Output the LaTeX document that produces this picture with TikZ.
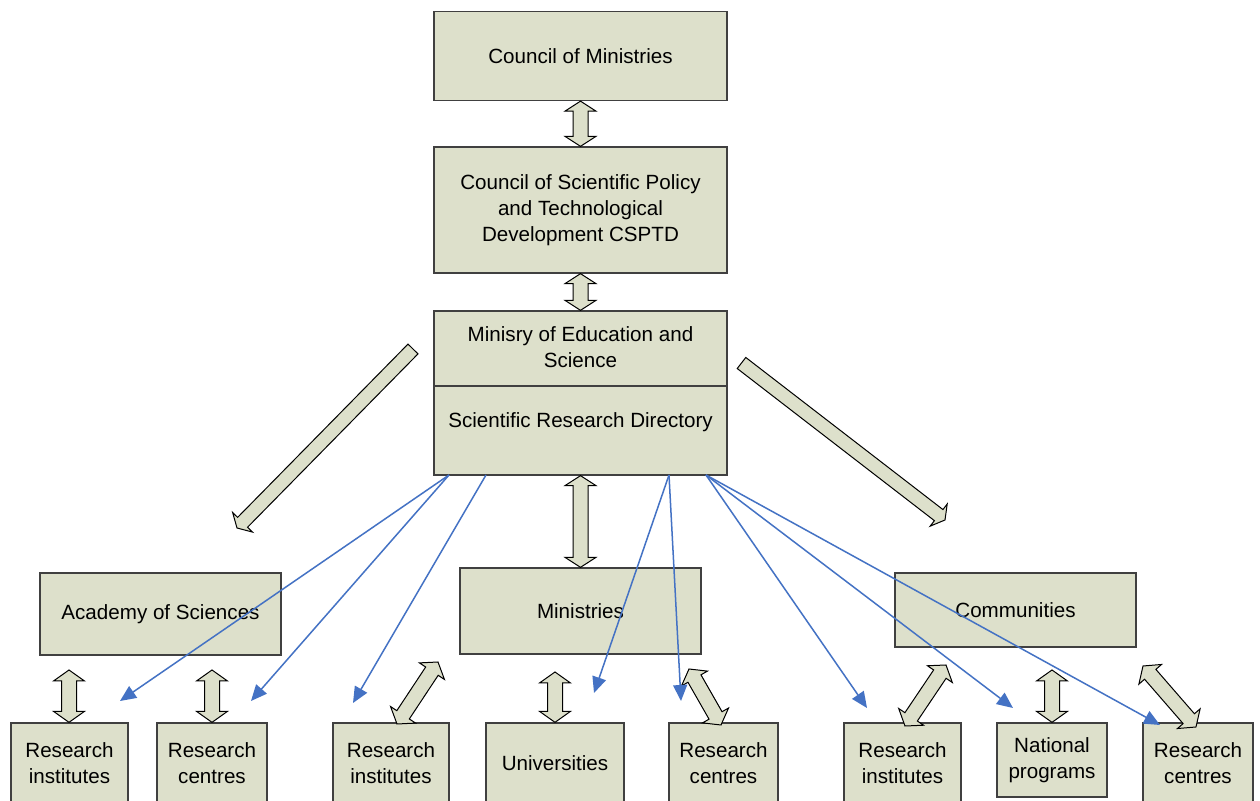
\documentclass[tikz,border=0pt]{standalone}
\usepackage{fontspec}
\setmainfont{Liberation Sans}
\usetikzlibrary{calc,arrows.meta}
\definecolor{boxfill}{RGB}{221,224,203}
\definecolor{boxline}{RGB}{64,64,64}
\definecolor{linkblue}{RGB}{68,114,196}
% double block arrow: from, to, head length, shaft half-width, head half-width
\newcommand{\blockdbl}[5]{%
  \draw[blk] (#1) -- ($(#1)!#3!(#2)!#5!90:(#2)$) -- ($(#1)!#3!(#2)!#4!90:(#2)$)
    -- ($(#2)!#3!(#1)!#4!-90:(#1)$) -- ($(#2)!#3!(#1)!#5!-90:(#1)$) -- (#2)
    -- ($(#2)!#3!(#1)!#5!90:(#1)$) -- ($(#2)!#3!(#1)!#4!90:(#1)$)
    -- ($(#1)!#3!(#2)!#4!-90:(#2)$) -- ($(#1)!#3!(#2)!#5!-90:(#2)$) -- cycle;}
% single block arrow: tail, tip, head length, shaft half-width, head half-width
\newcommand{\blocksgl}[5]{%
  \draw[blk] ($(#1)!#4!90:(#2)$) -- ($(#2)!#3!(#1)!#4!-90:(#1)$)
    -- ($(#2)!#3!(#1)!#5!-90:(#1)$) -- (#2)
    -- ($(#2)!#3!(#1)!#5!90:(#1)$) -- ($(#2)!#3!(#1)!#4!90:(#1)$)
    -- ($(#1)!#4!-90:(#2)$) -- cycle;}
\begin{document}
\begin{tikzpicture}[x=0.5pt,y=-0.5pt,
  box/.style={draw=boxline, fill=boxfill, line width=0.65pt, inner sep=0pt,
    align=center, font=\fontsize{10.3pt}{13pt}\selectfont},
  txt/.style={inner sep=0pt, align=center, font=\fontsize{10.3pt}{13pt}\selectfont},
  blk/.style={draw=black, fill=boxfill, line width=0.5pt, line join=miter},
  link/.style={draw=linkblue, line width=0.75pt, -{Triangle[length=8pt,width=7pt]}}]
\useasboundingbox (0,0) rectangle (1260,801);
\clip (0,0) rectangle (1260,801);
\fill[white] (0,0) rectangle (1260,801);

% main boxes
\node[box, minimum width=146.5pt, minimum height=44.5pt] (cm) at (580.5,56) {Council of Ministries};
\node[box, minimum width=146.5pt, minimum height=63pt] (csp) at (580.5,210)
  {Council of Scientific Policy\\and Technological\\Development CSPTD};
\node[box, minimum width=146.5pt, minimum height=82pt] (mes) at (580.5,393) {};
\coordinate (divy) at (0,386);
\draw[draw=boxline, line width=0.65pt] (mes.west |- divy) -- (mes.east |- divy);
\node[txt] (mest) at (580.5,347.5) {Minisry of Education and\\Science};
\node[txt] (mesb) at (580.5,422) {Scientific Research Directory};

\node[box, minimum width=120.5pt, minimum height=41pt] (acad) at (160.5,614) {Academy of Sciences};
\node[box, minimum width=120.5pt, minimum height=43pt] (mins) at (580.5,611) {Ministries};
\node[box, minimum width=120.5pt, minimum height=37pt] (comm) at (1015.5,610) {Communities};

% bottom boxes
\node[box, minimum width=58.5pt, minimum height=40pt] (ri1) at (69.5,763) {Research\\institutes};
\node[box, minimum width=55pt, minimum height=40pt] (rc1) at (212,763) {Research\\centres};
\node[box, minimum width=58pt, minimum height=40pt] (ri2) at (391,763) {Research\\institutes};
\node[box, minimum width=69pt, minimum height=40pt] (univ) at (555,763) {Universities};
\node[box, minimum width=54.5pt, minimum height=40pt] (rc2) at (723.5,763) {Research\\centres};
\node[box, minimum width=58.5pt, minimum height=40pt] (ri3) at (902.5,763) {Research\\institutes};
\node[box, minimum width=55pt, minimum height=37pt] (np) at (1052,760) {National\\programs};
\node[box, minimum width=55pt, minimum height=40pt] (rc3) at (1198,763) {Research\\centres};

% vertical double block arrows
\blockdbl{cm.south}{csp.north}{5pt}{3.75pt}{7.75pt}
\blockdbl{csp.south}{mes.north}{5pt}{3.75pt}{7.75pt}
\blockdbl{mes.south}{mins.north}{5pt}{3.75pt}{7.75pt}
\coordinate (a1) at (69,670);
\coordinate (a2) at (212,670);
\coordinate (a3) at (555,672);
\coordinate (a4) at (1052,670);
\blockdbl{a1}{ri1.north -| a1}{5.5pt}{3.75pt}{7.75pt}
\blockdbl{a2}{rc1.north -| a2}{5.5pt}{3.75pt}{7.75pt}
\blockdbl{a3}{univ.north -| a3}{5.5pt}{3.75pt}{7.75pt}
\blockdbl{a4}{np.north -| a4}{5.5pt}{3.75pt}{7.75pt}

% diagonal double block arrows
\coordinate (d1a) at (438,662);  \coordinate (d1b) at (397,724);
\coordinate (d2a) at (689,669);  \coordinate (d2b) at (721,725);
\coordinate (d3a) at (946,665);  \coordinate (d3b) at (905,726);
\coordinate (d4a) at (1143,666); \coordinate (d4b) at (1196,727);
\blockdbl{d1a}{d1b}{5.5pt}{3.75pt}{7.5pt}
\blockdbl{d2a}{d2b}{5.5pt}{3.75pt}{7.5pt}
\blockdbl{d3a}{d3b}{5.5pt}{3.75pt}{7.5pt}
\blockdbl{d4a}{d4b}{5.5pt}{3.75pt}{7.5pt}

% big single block arrows
\coordinate (bl1) at (413,349);   \coordinate (bl2) at (237,528);
\coordinate (br1) at (741.5,363); \coordinate (br2) at (945,520);
\blocksgl{bl1}{bl2}{4pt}{3.5pt}{7pt}
\blocksgl{br1}{br2}{4pt}{3.5pt}{7pt}

% blue links
\coordinate (s1) at (449,475);
\coordinate (s2) at (486,475);
\coordinate (s3) at (669,475);
\coordinate (s4) at (706,475);
\coordinate (t1) at (120,701);
\coordinate (t2) at (251,701);
\coordinate (t3) at (353,703);
\coordinate (t4) at (594,693);
\coordinate (t5) at (681,701);
\coordinate (t6) at (867,708);
\coordinate (t7) at (1013,708);
\coordinate (t8) at (1160,725);
\draw[link] (s1) -- (t1);
\draw[link] (s1) -- (t2);
\draw[link] (s2) -- (t3);
\draw[link] (s3) -- (t4);
\draw[link] (s3) -- (t5);
\draw[link] (s4) -- (t6);
\draw[link] (s4) -- (t7);
\draw[link] (s4) -- (t8);
\end{tikzpicture}
\end{document}
